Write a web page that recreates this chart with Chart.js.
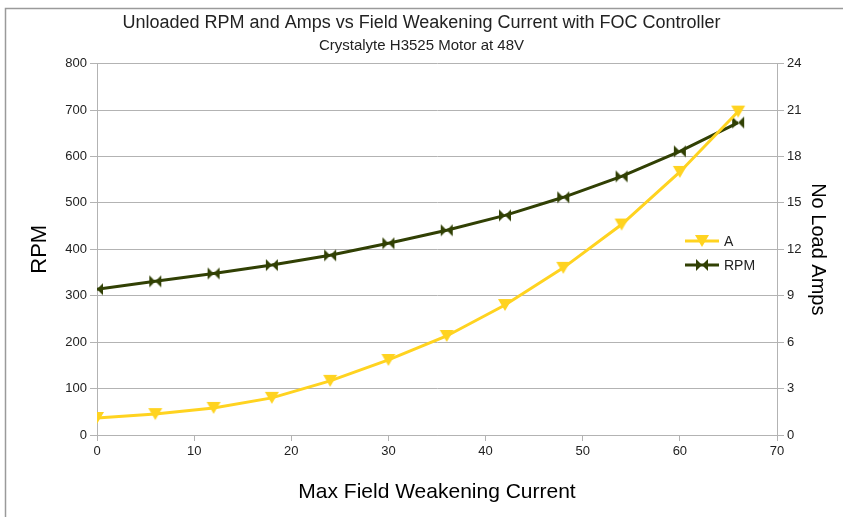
<!DOCTYPE html>
<html>
<head>
<meta charset="utf-8">
<script src="https://cdn.jsdelivr.net/npm/chart.js@4.4.0/dist/chart.umd.min.js"></script>
<style>
  html, body { margin: 0; padding: 0; background: #fff; }
  #wrap { width: 843px; height: 517px; position: relative; }
</style>
</head>
<body>
<div id="wrap"><canvas id="myChart" width="843" height="517"></canvas></div>
<script>
'use strict';

// data
var fieldCurrent = [0, 6, 12, 18, 24, 30, 36, 42, 48, 54, 60, 66];
var rpmValues = [314, 331, 348, 366, 387, 413, 441, 473, 512, 557, 611, 673];
var ampValues = [1.1, 1.35, 1.75, 2.4, 3.5, 4.85, 6.4, 8.4, 10.8, 13.6, 17.0, 20.9];
var seriesNames = ['A', 'RPM'];

var yellow = '#ffd320';
var darkGreen = '#314004';
var fontFamily = "'Liberation Sans', Arial, sans-serif";

// bowtie marker for the RPM line
function bowtie(color) {
  var c = document.createElement('canvas');
  c.width = 14;
  c.height = 14;
  var g = c.getContext('2d');
  g.fillStyle = color;
  g.beginPath();
  g.moveTo(1, 1);
  g.lineTo(7, 7);
  g.lineTo(1, 13);
  g.closePath();
  g.fill();
  g.beginPath();
  g.moveTo(13, 1);
  g.lineTo(7, 7);
  g.lineTo(13, 13);
  g.closePath();
  g.fill();
  return c;
}

// down pointing triangle for the amps line
function downTriangle(color) {
  var c = document.createElement('canvas');
  c.width = 16;
  c.height = 14;
  var g = c.getContext('2d');
  g.fillStyle = color;
  g.beginPath();
  g.moveTo(1, 1);
  g.lineTo(15, 1);
  g.lineTo(8, 13);
  g.closePath();
  g.fill();
  return c;
}

function toPoints(xs, ys) {
  var pts = [];
  for (var i = 0; i < xs.length; i++) {
    pts.push({ x: xs[i], y: ys[i] });
  }
  return pts;
}

var ampMarker = downTriangle(yellow);
var rpmMarker = bowtie(darkGreen);

// page background + frame line
var framePlugin = {
  id: 'frame',
  beforeDraw: function (chart) {
    var ctx = chart.ctx;
    ctx.save();
    ctx.fillStyle = '#fff';
    ctx.fillRect(0, 0, chart.width, chart.height);
    ctx.strokeStyle = '#9a9a9a';
    ctx.lineWidth = 1.5;
    ctx.beginPath();
    ctx.moveTo(843, 8.5);
    ctx.lineTo(5.5, 8.5);
    ctx.lineTo(5.5, 517);
    ctx.stroke();
    ctx.restore();
  }
};

// legend sits inside the plot on the right
var legendPlugin = {
  id: 'innerLegend',
  afterDatasetsDraw: function (chart) {
    var ctx = chart.ctx;
    var x0 = 685;
    var rows = [241, 265];
    var markers = [ampMarker, rpmMarker];
    ctx.save();
    for (var i = 0; i < chart.data.datasets.length; i++) {
      var ds = chart.data.datasets[i];
      var y = rows[i];
      ctx.strokeStyle = ds.borderColor;
      ctx.lineWidth = 3;
      ctx.beginPath();
      ctx.moveTo(x0, y);
      ctx.lineTo(x0 + 34, y);
      ctx.stroke();
      ctx.drawImage(markers[i], x0 + 17 - markers[i].width / 2, y - 7);
      ctx.fillStyle = '#222';
      ctx.font = '14px ' + fontFamily;
      ctx.textBaseline = 'middle';
      ctx.fillText(ds.label, x0 + 39, y + 1);
    }
    ctx.restore();
  }
};

var ctx = document.getElementById('myChart').getContext('2d');
var chart = new Chart(ctx, {
  type: 'line',
  data: {
    datasets: [
      {
        label: seriesNames[0],
        data: toPoints(fieldCurrent, ampValues),
        yAxisID: 'yAmps',
        borderColor: yellow,
        backgroundColor: yellow,
        borderWidth: 3,
        pointStyle: ampMarker,
        tension: 0
      },
      {
        label: seriesNames[1],
        data: toPoints(fieldCurrent, rpmValues),
        yAxisID: 'yRpm',
        borderColor: darkGreen,
        backgroundColor: darkGreen,
        borderWidth: 3,
        pointStyle: rpmMarker,
        tension: 0
      }
    ]
  },
  options: {
    responsive: false,
    animation: false,
    layout: { padding: 0 },
    plugins: {
      legend: { display: false },
      tooltip: { enabled: false },
      title: {
        display: true,
        text: 'Unloaded RPM and Amps vs Field Weakening Current with FOC Controller',
        color: '#222',
        font: { family: fontFamily, size: 18, weight: 'normal' },
        padding: { top: 12, bottom: 2 }
      },
      subtitle: {
        display: true,
        text: 'Crystalyte H3525 Motor at 48V',
        color: '#222',
        font: { family: fontFamily, size: 15, weight: 'normal' },
        padding: { top: 1, bottom: 9 }
      }
    },
    scales: {
      x: {
        type: 'linear',
        min: 0,
        max: 70,
        ticks: {
          stepSize: 10,
          color: '#222',
          font: { family: fontFamily, size: 13 },
          padding: 3
        },
        grid: { color: 'rgba(0,0,0,0)', tickColor: '#b3b3b3', tickLength: 6 },
        border: { color: '#b3b3b3' },
        title: {
          display: true,
          text: 'Max Field Weakening Current',
          color: '#000',
          font: { family: fontFamily, size: 21 },
          padding: { top: 0, bottom: 12 }
        },
        afterFit: function (scale) { scale.height = 82; }
      },
      yRpm: {
        position: 'left',
        min: 0,
        max: 800,
        ticks: {
          stepSize: 100,
          color: '#222',
          font: { family: fontFamily, size: 13 },
          padding: 3
        },
        grid: { color: '#b3b3b3', tickColor: '#b3b3b3', tickLength: 7 },
        border: { color: '#b3b3b3' },
        title: {
          display: true,
          text: 'RPM',
          color: '#000',
          font: { family: fontFamily, size: 22 },
          padding: { top: 27, bottom: 0 }
        },
        afterFit: function (scale) { scale.width = 97; }
      },
      yAmps: {
        position: 'right',
        min: 0,
        max: 24,
        ticks: {
          stepSize: 3,
          color: '#222',
          font: { family: fontFamily, size: 13 },
          padding: 3
        },
        grid: { drawOnChartArea: false, tickColor: '#b3b3b3', tickLength: 7 },
        border: { color: '#b3b3b3' },
        title: {
          display: true,
          text: 'No Load Amps',
          color: '#000',
          font: { family: fontFamily, size: 20 },
          padding: { top: 13, bottom: 0 }
        },
        afterFit: function (scale) { scale.width = 66; }
      }
    }
  },
  plugins: [framePlugin, legendPlugin]
});
</script>
</body>
</html>
